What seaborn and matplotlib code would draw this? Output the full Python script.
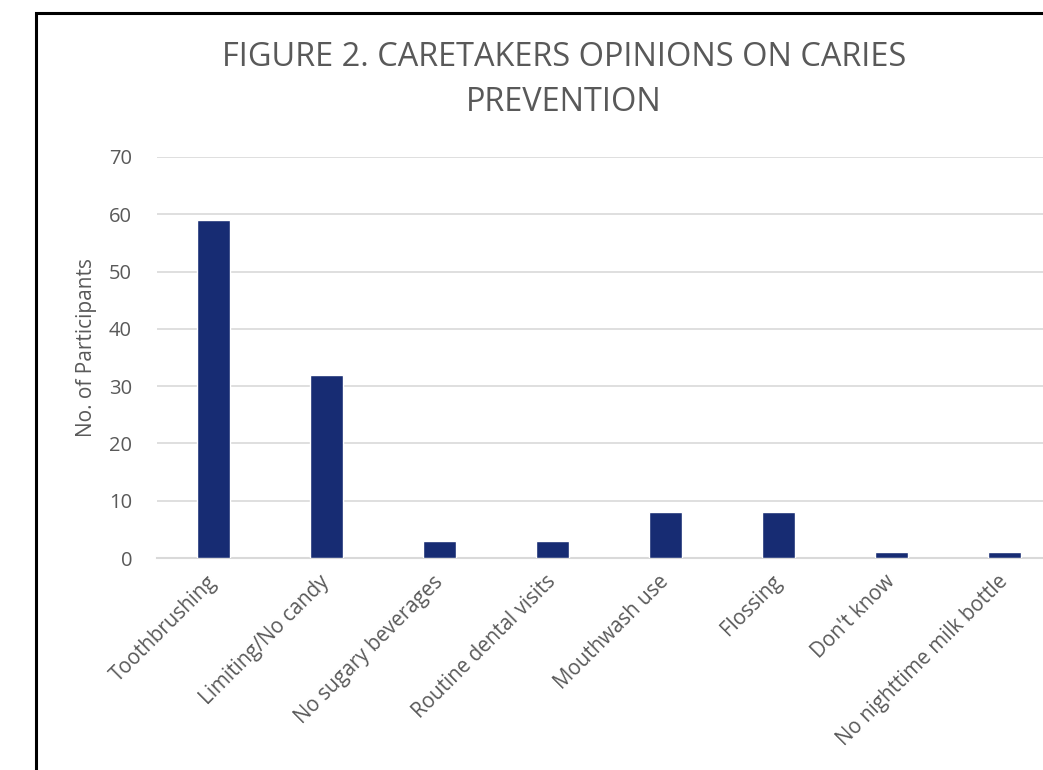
import matplotlib
matplotlib.use("Agg")
import matplotlib.pyplot as plt
import seaborn as sns
import pandas as pd
from matplotlib.patches import Rectangle

categories = ["Toothbrushing", "Limiting/No candy", "No sugary beverages",
              "Routine dental visits", "Mouthwash use", "Flossing",
              "Don't know", "No nighttime milk bottle"]
values = [59, 32, 3, 3, 8, 8, 1, 1]
yticks = [0, 10, 20, 30, 40, 50, 60, 70]
title = "FIGURE 2. CARETAKERS OPINIONS ON CARIES\nPREVENTION"
ylabel = "No. of Participants"

sns.set_theme(style="white")
plt.rcParams['font.family'] = ['Open Sans', 'DejaVu Sans']

df = pd.DataFrame({"cat": categories, "val": values})

W, H = 1043, 770
fig = plt.figure(figsize=(W / 100, H / 100), dpi=100)
left, right, top, bottom = 157, 1061, 157, 558
ax = fig.add_axes([left / W, 1 - bottom / H, (right - left) / W, (bottom - top) / H])

sns.barplot(data=df, x="cat", y="val", color="#172C73", width=0.30,
            saturation=1, ax=ax, zorder=3)
ax.set_ylim(0, 70)
ax.set_xlim(-0.5, len(categories) - 0.5)
ax.set_yticks(yticks)
ax.yaxis.grid(True, color="#d9d9d9", linewidth=1.2, zorder=0)
for s in ["top", "right", "left"]:
    ax.spines[s].set_visible(False)
ax.spines["bottom"].set_color("#d9d9d9")
ax.spines["bottom"].set_linewidth(1.5)
ax.tick_params(axis="y", length=0, pad=18, labelsize=14.5, labelcolor="#595959")
ax.tick_params(axis="x", length=0, pad=15, labelsize=14.8, labelcolor="#595959")
ax.set_xlabel("")
ax.set_ylabel(ylabel, fontsize=15, color="#595959")
ax.yaxis.set_label_coords(-0.066, 0.524)
for lab in ax.get_xticklabels():
    lab.set_rotation(45)
    lab.set_ha("right")
    lab.set_rotation_mode("anchor")
    lab.set_va("center")

fig.text(564 / W, 1 - 80 / H, title, ha="center", va="center", fontsize=23.4,
         color="#595959", linespacing=1.5)

# clipped outer frame
fig.add_artist(Rectangle((36 / W, -0.1), 1.2, 1 - 13 / H + 0.1,
                         transform=fig.transFigure, fill=False,
                         edgecolor="black", linewidth=2.2, clip_on=False))

fig.savefig("out.png", dpi=100)
